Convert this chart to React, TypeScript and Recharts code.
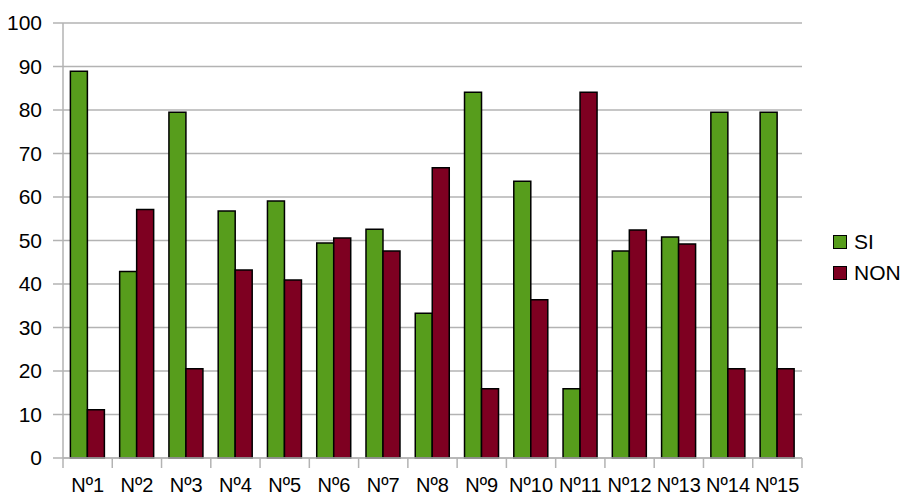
import React from 'react';
import { Bar, BarChart, CartesianGrid, Legend, XAxis, YAxis } from 'recharts';

document.body.style.margin = '0';

const categories = ['Nº1', 'Nº2', 'Nº3', 'Nº4', 'Nº5', 'Nº6', 'Nº7', 'Nº8', 'Nº9', 'Nº10', 'Nº11', 'Nº12', 'Nº13', 'Nº14', 'Nº15'];
const siValues = [88.9, 42.9, 79.5, 56.8, 59.1, 49.4, 52.6, 33.3, 84.1, 63.6, 15.9, 47.6, 50.8, 79.5, 79.5];
const nonValues = [11.1, 57.1, 20.5, 43.2, 40.9, 50.6, 47.6, 66.7, 15.9, 36.4, 84.1, 52.4, 49.2, 20.5, 20.5];
const yTicks = [0, 10, 20, 30, 40, 50, 60, 70, 80, 90, 100];

const GREEN = '#579d1c';
const RED = '#7e0021';
const GRID = '#b3b3b3';
const FONT = '"Liberation Sans", Arial, sans-serif';
const FONT_SIZE = 21;

const data = categories.map((name, i) => ({ name, si: siValues[i], non: nonValues[i] }));

const TICK_SIZE = 10;
const TICK_MARGIN = 10;

// category labels + tick marks on the band boundaries
function CategoryTick(props: any) {
  const { x, y, payload, index, visibleTicksCount } = props;
  const half = payload.offset ?? 0;
  const axisY = y - TICK_SIZE - TICK_MARGIN;
  return (
    <g>
      <line x1={x - half} x2={x - half} y1={axisY} y2={axisY + TICK_SIZE} stroke={GRID} strokeWidth={1.5} />
      {index === visibleTicksCount - 1 && (
        <line x1={x + half} x2={x + half} y1={axisY} y2={axisY + TICK_SIZE} stroke={GRID} strokeWidth={1.5} />
      )}
      <text x={x} y={y} dy="0.71em" textAnchor="middle" fill="#000" fontSize={20} fontFamily={FONT}>
        {payload.value}
      </text>
    </g>
  );
}

function LegendBox() {
  const items = [
    { label: 'SI', color: GREEN },
    { label: 'NON', color: RED },
  ];
  return (
    <div style={{ fontFamily: FONT, fontSize: FONT_SIZE, color: '#000' }}>
      {items.map((it) => (
        <div key={it.label} style={{ display: 'flex', alignItems: 'center', height: 31 }}>
          <span
            style={{
              display: 'inline-block',
              width: 12,
              height: 12,
              background: it.color,
              border: '1.5px solid #000',
              marginRight: 7,
            }}
          />
          <span>{it.label}</span>
        </div>
      ))}
    </div>
  );
}

export default function App() {
  return (
    <div style={{ width: 903, height: 497, background: '#fff', position: 'relative' }}>
      <BarChart
        width={903}
        height={497}
        data={data}
        margin={{ top: 23, right: 101, left: 0, bottom: 0 }}
        barCategoryGap="15%"
        barGap={0}
      >
        <CartesianGrid vertical={false} stroke={GRID} strokeWidth={1.5} />
        <XAxis
          dataKey="name"
          height={39}
          tickLine={false}
          tickSize={TICK_SIZE}
          tickMargin={TICK_MARGIN}
          axisLine={{ stroke: GRID, strokeWidth: 1.5 }}
          interval={0}
          tick={<CategoryTick />}
        />
        <YAxis
          domain={[0, 100]}
          ticks={yTicks}
          width={63}
          tickSize={10}
          tickMargin={11}
          tickLine={{ stroke: GRID, strokeWidth: 1.5 }}
          axisLine={{ stroke: GRID, strokeWidth: 1.5 }}
          tick={{ fill: '#000', fontSize: FONT_SIZE, fontFamily: FONT }}
          interval={0}
        />
        <YAxis
          yAxisId="right"
          orientation="right"
          domain={[0, 100]}
          width={0}
          tick={false}
          tickLine={false}
          axisLine={{ stroke: GRID, strokeWidth: 1.5 }}
        />
        <Legend
          layout="horizontal"
          verticalAlign="middle"
          align="center"
          content={<LegendBox />}
          wrapperStyle={{ left: 833, top: 226, width: 70, height: 62 }}
        />
        <Bar dataKey="si" name="SI" fill={GREEN} stroke="#000" strokeWidth={1.5} isAnimationActive={false} />
        <Bar dataKey="non" name="NON" fill={RED} stroke="#000" strokeWidth={1.5} isAnimationActive={false} />
      </BarChart>
    </div>
  );
}
